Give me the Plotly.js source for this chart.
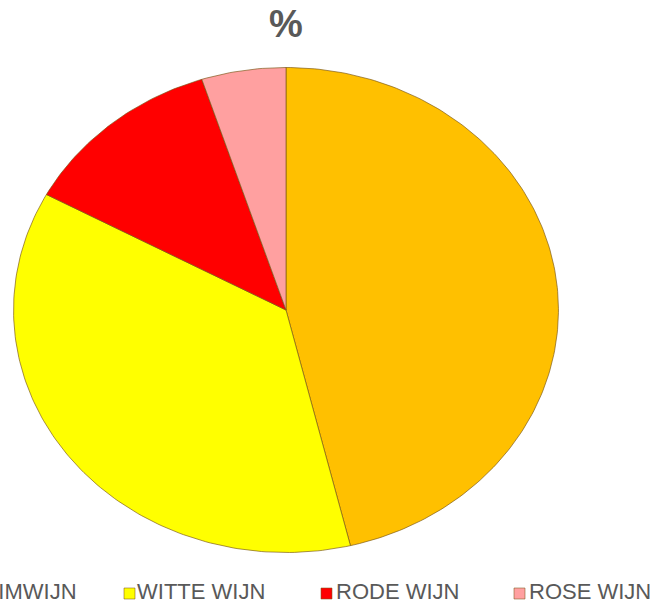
<!DOCTYPE html>
<html>
<head>
<meta charset="utf-8">
<script src="https://cdn.plot.ly/plotly-3.0.1.min.js"></script>
<style>html,body{margin:0;padding:0;background:#fff;}#chart{width:669px;height:605px;}</style>
</head>
<body>
<div id="chart"></div>
<script>
// Data
const categories = ['SCHUIMWIJN', 'WITTE WIJN', 'RODE WIJN', 'ROSE WIJN'];
const values = [46.2, 36.7, 12.1, 5.0];
const colors = ['#FFC000', '#FFFF00', '#FF0000', '#FFA0A0'];
const chartTitle = '%';

const W = 669, H = 605;
const M = {l: 13, r: 110, t: 67, b: 52};
const pw = W - M.l - M.r, ph = H - M.t - M.b;
const px2paperX = p => (p - M.l) / pw;
const px2paperY = p => (H - M.b - p) / ph;

const total = values.reduce((a, b) => a + b, 0);
const traces = [];
let start = 0;
values.forEach((v, i) => {
  const a0 = start / total * 2 * Math.PI;
  const a1 = (start + v) / total * 2 * Math.PI;
  const n = Math.max(8, Math.ceil((a1 - a0) / (2 * Math.PI) * 360));
  const xs = [0], ys = [0];
  for (let k = 0; k <= n; k++) {
    const a = a0 + (a1 - a0) * k / n;
    xs.push(Math.sin(a)); ys.push(Math.cos(a));
  }
  xs.push(0); ys.push(0);
  traces.push({
    type: 'scatter', mode: 'lines', x: xs, y: ys, fill: 'toself',
    fillcolor: colors[i], line: {color: 'rgba(120,85,20,0.65)', width: 1},
    name: categories[i], showlegend: false, hoverinfo: 'name'
  });
  start += v;
});

// Legend (manual, to reproduce the clipped first entry)
const legendTextStart = [null, 137, 336, 529];   // left edge of text (px)
const legendMarkerCenter = [null, 129.5, 326.5, 519.5];
const legendMarkerY = 593.5;
const legendTextBottom = 604.5;
const annotations = [];
const shapes = [];
const legendFont = {family: 'Liberation Sans, Arial, sans-serif', size: 22, color: '#595959'};
categories.forEach((c, i) => {
  if (i === 0) {
    annotations.push({text: c, xref: 'paper', yref: 'paper', x: px2paperX(78), y: px2paperY(legendTextBottom),
      xanchor: 'right', yanchor: 'bottom', showarrow: false, borderpad: 0, font: legendFont});
    return;
  }
  annotations.push({text: c, xref: 'paper', yref: 'paper', x: px2paperX(legendTextStart[i] - 1), y: px2paperY(legendTextBottom),
    xanchor: 'left', yanchor: 'bottom', showarrow: false, font: legendFont, borderpad: 0});
  const cx = legendMarkerCenter[i], s = 5.5;
  shapes.push({type: 'rect', xref: 'paper', yref: 'paper',
    x0: px2paperX(cx - s), x1: px2paperX(cx + s), y0: px2paperY(legendMarkerY + s), y1: px2paperY(legendMarkerY - s),
    fillcolor: colors[i], line: {color: 'rgba(130,90,30,0.55)', width: 1}});
});

const layout = {
  width: W, height: H,
  margin: M,
  paper_bgcolor: '#fff', plot_bgcolor: '#fff',
  xaxis: {range: [-1.002, 1.002], visible: false, fixedrange: true},
  yaxis: {range: [-1.002, 1.002], visible: false, fixedrange: true},
  title: {text: '<b>' + chartTitle + '</b>', font: {family: 'Liberation Sans, Arial, sans-serif', size: 38, color: '#595959'},
          x: 0.5, xref: 'paper', xanchor: 'center', y: 1 - 24 / H, yref: 'container', yanchor: 'middle'},
  showlegend: false,
  annotations: annotations,
  shapes: shapes
};
Plotly.newPlot('chart', traces, layout, {staticPlot: true});
</script>
</body>
</html>
